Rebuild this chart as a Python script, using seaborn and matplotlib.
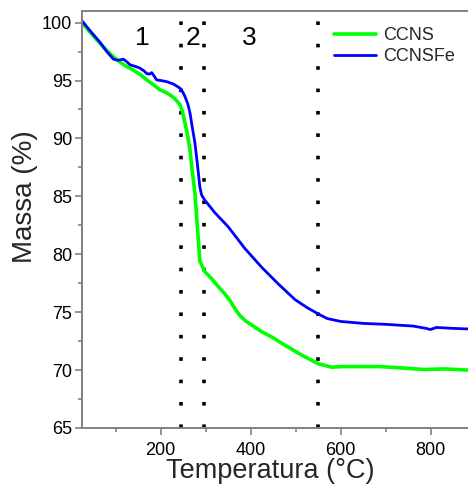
import matplotlib
matplotlib.use("Agg")
import matplotlib.pyplot as plt
from matplotlib.ticker import MultipleLocator
import pandas as pd
import seaborn as sns

# TGA curves: temperature (°C) and remaining mass (%)
ccns_temp = [25, 40, 65, 85, 102, 120, 139, 155, 169, 185, 198, 210, 221, 232,
             243, 249, 254, 260, 265, 270, 276, 281, 287, 298, 313, 328, 342,
             354, 365, 376, 390, 402, 425, 447, 476, 513, 550, 580, 600, 640,
             687, 730, 784, 830, 883]
ccns_mass = [100.0, 99.3, 98.2, 97.4, 96.8, 96.3, 95.9, 95.5, 95.05, 94.6,
             94.2, 94.0, 93.75, 93.4, 92.9, 92.2, 91.3, 90.2, 89.0, 87.2, 85.3,
             82.6, 79.4, 78.5, 77.9, 77.2, 76.6, 76.0, 75.3, 74.7, 74.2, 73.9,
             73.3, 72.85, 72.15, 71.3, 70.55, 70.25, 70.3, 70.3, 70.3, 70.2,
             70.05, 70.1, 70.0]

ccnsfe_temp = [25, 45, 65, 80, 95, 105, 117, 125, 132, 145, 154, 162, 169, 175,
               180, 185, 191, 200, 213, 228, 243, 249, 254, 260, 265, 270, 276,
               282, 287, 291, 298, 320, 350, 387, 425, 461, 498, 525, 550, 570,
               600, 650, 700, 761, 790, 799, 813, 850, 883]
ccnsfe_mass = [100.15, 99.2, 98.3, 97.5, 96.84, 96.75, 96.84, 96.6, 96.35,
               96.2, 96.06, 95.85, 95.6, 95.55, 95.68, 95.4, 95.05, 95.0, 94.9,
               94.7, 94.33, 94.0, 93.6, 93.0, 92.2, 91.0, 89.6, 87.6, 85.8,
               85.1, 84.67, 83.6, 82.37, 80.5, 78.85, 77.45, 76.1, 75.4, 74.85,
               74.45, 74.2, 74.03, 73.95, 73.8, 73.6, 73.5, 73.68, 73.6, 73.55]

series_names = ["CCNS", "CCNSFe"]
series_colors = {"CCNS": "#00ff00", "CCNSFe": "#0000ff"}
series_widths = {"CCNS": 2.6, "CCNSFe": 2.0}

# Boundaries of the decomposition stages and their labels
stage_bounds = [245, 296, 550]
stage_labels = ["1", "2", "3"]
stage_label_x = [158, 272, 396]
stage_label_y = 98.65

df = pd.concat([
    pd.DataFrame({"Temperatura": ccns_temp, "Massa": ccns_mass, "Amostra": "CCNS"}),
    pd.DataFrame({"Temperatura": ccnsfe_temp, "Massa": ccnsfe_mass, "Amostra": "CCNSFe"}),
])

sns.set_theme(style="ticks")
plt.rcParams["font.family"] = ["Liberation Sans", "DejaVu Sans"]

fig = plt.figure(figsize=(4.68, 4.84), dpi=100)
ax = fig.add_axes([82 / 468, 1 - 428 / 484, 386 / 468, 417 / 484])

for name in series_names:
    sub = df[df["Amostra"] == name]
    sns.lineplot(data=sub, x="Temperatura", y="Massa", ax=ax,
                 color=series_colors[name], linewidth=series_widths[name],
                 label=name, sort=True, estimator=None)

for xb in stage_bounds:
    ax.axvline(xb, color="black", linestyle=(0, (1, 5.2)), linewidth=2.6, zorder=1)

for lab, xl in zip(stage_labels, stage_label_x):
    ax.text(xl, stage_label_y, lab, fontsize=19, ha="center", va="center",
            color="black")

ax.set_xlim(25, 883)
ax.set_ylim(65, 101)
ax.xaxis.set_major_locator(MultipleLocator(200))
ax.xaxis.set_minor_locator(MultipleLocator(100))
ax.yaxis.set_major_locator(MultipleLocator(5))
ax.yaxis.set_minor_locator(MultipleLocator(2.5))

spine_color = "#808080"
for side in ["left", "bottom", "top"]:
    ax.spines[side].set_color(spine_color)
    ax.spines[side].set_linewidth(1.4)
ax.spines["right"].set_visible(False)

ax.tick_params(axis="both", which="major", direction="out", length=5,
               width=1.2, color=spine_color, labelsize=13, labelcolor="black")
ax.tick_params(axis="x", which="major", pad=5)
ax.tick_params(axis="y", which="major", pad=2)
ax.tick_params(axis="both", which="minor", direction="out", length=3,
               width=1.2, color=spine_color)

ax.set_xlabel("Temperatura (°C)", fontsize=19.5)
ax.xaxis.set_label_coords(0.487, -0.072)
ax.set_ylabel("Massa (%)", fontsize=20)
ax.yaxis.set_label_coords(-0.113, 0.554)

ax.legend(loc="upper left", bbox_to_anchor=(0.653, 0.962), frameon=False,
          fontsize=13, handlelength=2.3, handletextpad=0.4, labelspacing=0.25,
          borderpad=0, borderaxespad=0)

fig.savefig("out.png", dpi=100)
